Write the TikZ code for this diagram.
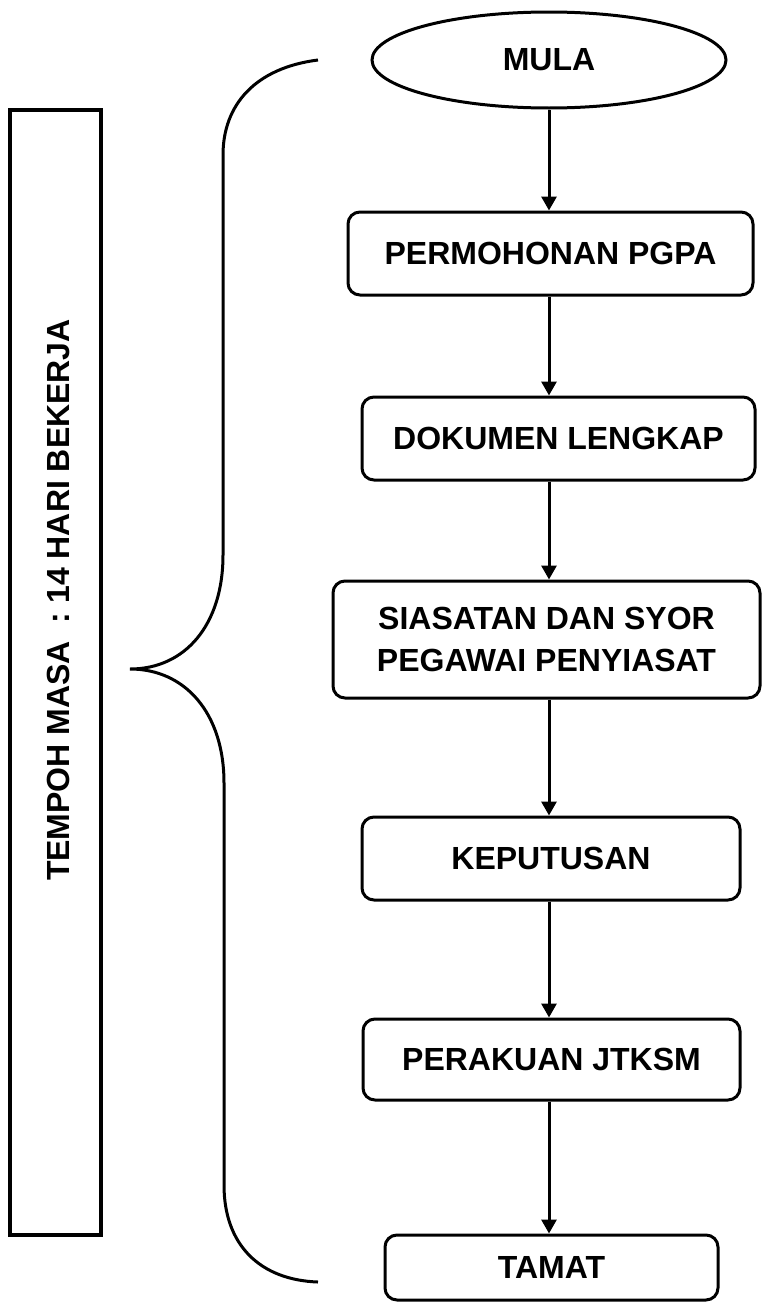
\documentclass[tikz,border=0pt]{standalone}
\usepackage{fontspec}
\setmainfont{Liberation Sans}
\usetikzlibrary{shapes.geometric,arrows.meta}
\begin{document}
\begin{tikzpicture}[x=0.5pt,y=-0.5pt,
  every node/.style={font=\bfseries\fontsize{16pt}{21pt}\selectfont, inner sep=0pt},
  stepbox/.style={draw, line width=1.5pt, rounded corners=6pt, rectangle, align=center},
  arr/.style={line width=1.5pt, -{Triangle[width=7.5pt,length=7pt]}},
  bracestyle/.style={line width=1.5pt}]
\useasboundingbox (0,0) rectangle (762,1306);
\node[draw, ellipse, line width=1.5pt, minimum width=177pt, minimum height=48pt] (mula) at (549,60) {MULA};
\node[stepbox, minimum width=202.5pt, minimum height=41.5pt] (perm) at (550.5,253.5) {PERMOHONAN PGPA};
\node[stepbox, minimum width=196.5pt, minimum height=41.5pt] (dok) at (558.5,438.5) {DOKUMEN LENGKAP};
\node[stepbox, minimum width=213.5pt, minimum height=58.5pt] (sias) at (546.5,639.5) {SIASATAN DAN SYOR\\PEGAWAI PENYIASAT};
\node[stepbox, minimum width=189pt, minimum height=41.5pt] (kep) at (551,858.5) {KEPUTUSAN};
\node[stepbox, minimum width=188.5pt, minimum height=40.5pt] (per) at (551.5,1059.5) {PERAKUAN JTKSM};
\node[stepbox, minimum width=166.5pt, minimum height=32.5pt] (tamat) at (551.5,1267.5) {TAMAT};
\draw[arr] (mula.south) -- (mula.south |- perm.north);
\draw[arr] (perm.south -| mula.south) -- (dok.north -| mula.south);
\draw[arr] (dok.south -| mula.south) -- (sias.north -| mula.south);
\draw[arr] (sias.south -| mula.south) -- (kep.north -| mula.south);
\draw[arr] (kep.south -| mula.south) -- (per.north -| mula.south);
\draw[arr] (per.south -| mula.south) -- (tamat.north -| mula.south);
\node[draw, line width=2pt, rectangle, minimum width=45.5pt, minimum height=562.5pt] (tempoh) at (55.5,672.5) {};
\node[rotate=90] (tlabel) at (58,600) {TEMPOH MASA\ \ : 14 HARI BEKERJA};
\draw[bracestyle] (318,60) .. controls (255,68) and (223,105) .. (223,155)
  -- (223,555) .. controls (223,625) and (185,669) .. (130,669)
  .. controls (185,669) and (224,713) .. (224,783)
  -- (224,1185) .. controls (224,1245) and (260,1280) .. (318,1282);
\end{tikzpicture}
\end{document}
